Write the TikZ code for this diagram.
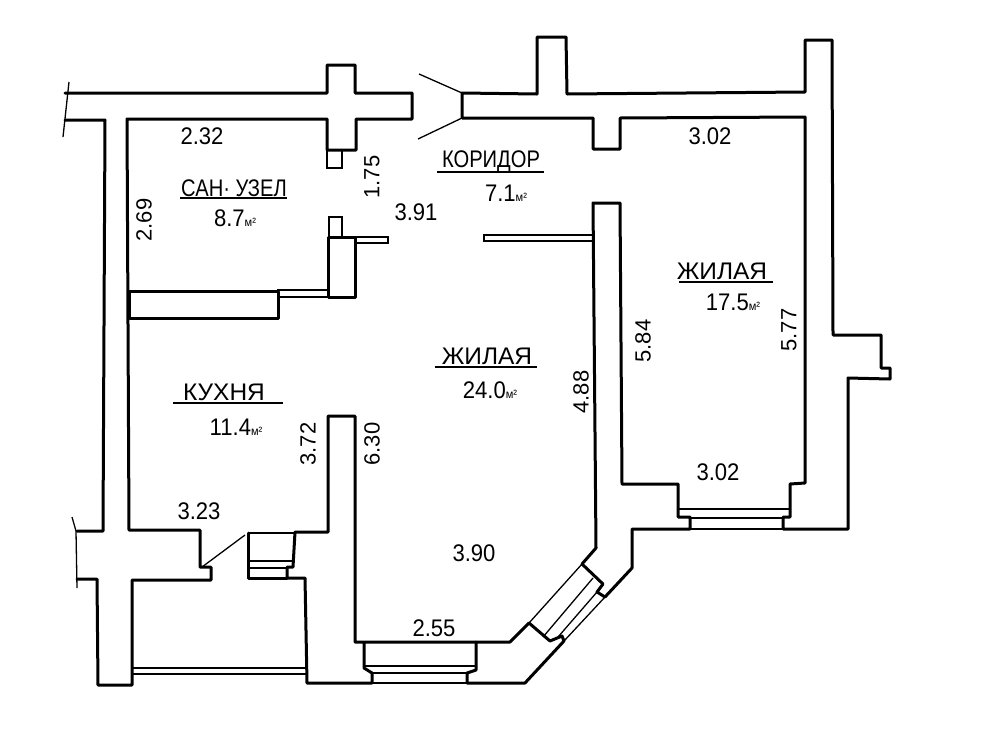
\documentclass[tikz,border=0pt]{standalone}
\usepackage{fontspec}
\setmainfont{Liberation Sans}
\newfontfamily\handfont[FakeStretch=0.84]{Liberation Sans}
\newfontfamily\widefont[FakeStretch=1.02]{Liberation Sans}
\newfontfamily\numfont[FakeStretch=0.92]{Liberation Sans}
\newcommand{\sqm}{{\fontsize{12}{12}\selectfont м²}}
\tikzset{%
  % Specifications for style of lines and labels:
            wall/.style = {line width=3pt, line join=round, line cap=round},
            thin/.style = {line width=1.3pt, line join=miter},
            room/.style = {font=\handfont\fontsize{24}{24}\selectfont, inner sep=0pt},
            wideroom/.style = {font=\widefont\fontsize{24}{24}\selectfont, inner sep=0pt},
            size/.style = {font=\numfont\fontsize{24}{24}\selectfont, inner sep=0pt},
            turned/.style = {font=\normalfont\fontsize{22}{22}\selectfont, inner sep=0pt},
            rule/.style = {line width=1.4pt}
}
\begin{document}
\begin{tikzpicture}[x=1pt, y=-1pt]
                        \useasboundingbox (0,0) rectangle (1000,750);
                        % walls
                        \draw[wall] (65,93)--(327,93)--(327,65)--(355,65)--(355,93)--(412,93)--(412,119)--(356,119)--(356,150)--(327,150)--(327,119)--(127,119)--(129,530)--(200,530)--(200,567)--(211,567)--(211,580)--(132,580)--(132,685)--(98,685)--(97,579)--(77,579);
                        \draw[wall] (77,531)--(103,531)--(105,120)--(65,120);
                        \draw[wall] (462,118)--(462,93)--(537,94)--(537,37)--(566,37)--(567,94)--(805,92)--(805,40)--(832,40)--(833,335)--(881,335)--(881,368)--(890,368)--(890,379)--(848,378)--(848,529)--(783,529)--(783,517)--(790,517)--(790,484)--(805,483)--(805,117)--(620,118)--(620,149)--(593,149)--(593,118)--cycle;
                        \draw[wall] (596,548)--(593,203)--(620,203)--(622,484)--(678,484)--(678,517)--(690,517)--(690,529)--(632,529)--(632,568)--(605,597)--(597,592)--(603,584)--(582,564)--cycle;
                        \draw[wall] (529,623)--(550,641)--(562,636)--(564,641)--(525,683)--(467,683)--(467,673)--(476,670)--(476,642)--(510,642)--cycle;
                        \draw[wall] (476,642)--(355,642)--(355,416)--(328,416)--(328,532)--(295,532)--(293,567)--(287,567)--(287,578)--(305,578)--(307,683)--(372,683)--(372,673)--(364,668)--(364,642);
                        \draw[wall] (129,291) rectangle (278,318);
                        \draw[wall] (328,237) rectangle (355,297);
                        \draw[thin] (295,533)--(248,533);
                        \draw[wall] (248,533)--(248,578)--(287,578);
                        % wall ends
                        \draw[thin] (69,82)--(63,137);
                        \draw[thin] (72,517)--(76,531)--(77,588);
                        % doors
                        \draw[thin] (419,74)--(462,93);
                        \draw[thin] (418,139)--(462,118);
                        \draw[thin] (202,567)--(245,535);
                        % partitions
                        \draw[thin] (327,150) rectangle (342,168);
                        \draw[thin] (329,217) rectangle (342,237);
                        \draw[thin] (355,237) rectangle (388,243);
                        \draw[thin] (278,290) rectangle (328,297);
                        \draw[thin] (484,235) rectangle (593,241);
                        % windows
                        \draw[thin] (132,668)--(306,668);
                        \draw[thin] (132,674)--(306,674);
                        \draw[thin] (248,561)--(294,561);
                        \draw[thin] (248,568)--(287,568);
                        \draw[thin] (364,666)--(476,666);
                        \draw[thin] (372,673)--(467,673);
                        \draw[thin] (372,683)--(467,683);
                        \draw[thin] (678,509)--(790,509);
                        \draw[thin] (690,518)--(783,518);
                        \draw[thin] (690,529)--(783,529);
                        \draw[thin] (582,564)--(529,623);
                        \draw[thin] (593,578)--(543,637);
                        \draw[thin] (597,592)--(558,637);
                        \draw[thin] (605,597)--(564,641);
                        % room names
                        \node[room] (sanuzel) at (234,188){САН· УЗЕЛ};
                        \draw[rule] (180,198)--(287,198);
                        \node[size] (sanarea) at (235,218){8.7\sqm};
                        \node[room] (koridor) at (491,162){КОРИДОР};
                        \draw[rule] (437,172)--(544,172);
                        \node[size] (korarea) at (506,193){7.1\sqm};
                        \node[wideroom] (zhilaya) at (722,271){ЖИЛАЯ};
                        \draw[rule] (679,282)--(773,282);
                        \node[size] (ziarea) at (733,302){17.5\sqm};
                        \node[wideroom] (zhilayb) at (487,356){ЖИЛАЯ};
                        \draw[rule] (435,367)--(537,367);
                        \node[size] (zibarea) at (490,390){24.0\sqm};
                        \node[wideroom] (kuhnya) at (224,392){КУХНЯ};
                        \draw[rule] (173,403)--(283,403);
                        \node[size] (kuharea) at (236,427){11.4\sqm};
                        % dimensions
                        \node[size] (san1) at (202,136){2.32};
                        \node[turned, rotate=90] (san2) at (144,220){2.69};
                        \node[turned, rotate=90] (door1) at (372,177){1.75};
                        \node[size] (kor1) at (416,212){3.91};
                        \node[size] (zi1) at (710,136){3.02};
                        \node[turned, rotate=90] (zi2) at (789,330){5.77};
                        \node[turned, rotate=90] (zi3) at (643,341){5.84};
                        \node[size] (zi4) at (718,472){3.02};
                        \node[turned, rotate=90] (zib1) at (581,392){4.88};
                        \node[turned, rotate=90] (zib2) at (372,444){6.30};
                        \node[size] (zib3) at (474,553){3.90};
                        \node[size] (zib4) at (434,628){2.55};
                        \node[turned, rotate=90] (kuh1) at (308,444){3.72};
                        \node[size] (kuh2) at (199,511){3.23};
                    \end{tikzpicture}
\end{document}
